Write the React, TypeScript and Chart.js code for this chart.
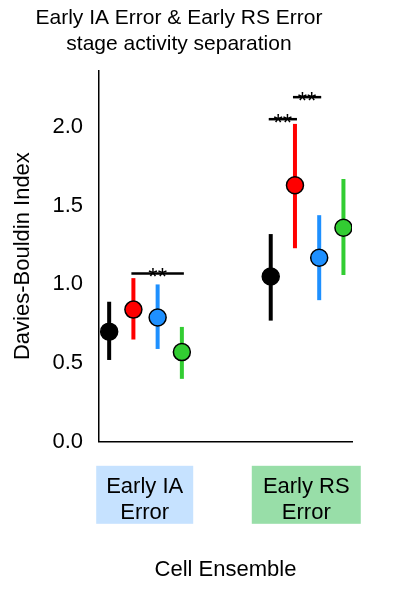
import { useEffect, useRef } from 'react'
import { Chart, registerables } from 'chart.js'

Chart.register(...registerables)

const categories = ['Early IA\nError', 'Early RS\nError']
const stages = ['black', 'red', 'blue', 'green']
const stageColors = ['#000000', '#ff0000', '#1e90ff', '#32cd32']
const stageOffsets = [-0.22, -0.07, 0.08, 0.23]
const means = [
  [0.70, 0.84, 0.79, 0.57],
  [1.05, 1.63, 1.17, 1.36],
]
const lows = [
  [0.52, 0.65, 0.59, 0.40],
  [0.77, 1.23, 0.90, 1.06],
]
const highs = [
  [0.89, 1.04, 1.00, 0.73],
  [1.32, 2.02, 1.44, 1.67],
]
// [category, fromStage, toStage, y]
const sigBars = [
  [0, 1, 3, 1.07],
  [1, 0, 1, 2.05],
  [1, 1, 2, 2.19],
]
const boxColors = ['#c6e2ff', '#98dea8']
const font = 'Liberation Sans, Arial, sans-serif'

export default function App() {
  const canvasRef = useRef<HTMLCanvasElement>(null)

  useEffect(() => {
    document.body.style.margin = '0'
    const ctx = canvasRef.current?.getContext('2d')
    if (!ctx) return

    const datasets = stages.map((s, i) => ({
      label: s,
      data: categories.map((_, c) => ({ x: c + 1 + stageOffsets[i], y: means[c][i] })),
      backgroundColor: stageColors[i],
      borderColor: '#000',
      borderWidth: 1.5,
      pointRadius: 8.5,
    }))

    const extras = {
      id: 'extras',
      beforeDraw(chart: any) {
        const { ctx, scales } = chart
        const x = scales.x, y = scales.y
        ctx.save()
        categories.forEach((_, c) => {
          const cx = x.getPixelForValue(c + 1)
          const w = c === 0 ? 97 : 109
          ctx.fillStyle = boxColors[c]
          ctx.fillRect(cx - w / 2, y.bottom + 24, w, 58)
        })
        ctx.restore()
      },
      beforeDatasetsDraw(chart: any) {
        const { ctx, scales } = chart
        const x = scales.x, y = scales.y
        ctx.save()
        ctx.lineWidth = 4
        categories.forEach((_, c) => {
          stages.forEach((_, i) => {
            const px = x.getPixelForValue(c + 1 + stageOffsets[i])
            ctx.strokeStyle = stageColors[i]
            ctx.beginPath()
            ctx.moveTo(px, y.getPixelForValue(lows[c][i]))
            ctx.lineTo(px, y.getPixelForValue(highs[c][i]))
            ctx.stroke()
          })
        })
        ctx.strokeStyle = '#000'
        ctx.lineWidth = 2.5
        ctx.fillStyle = '#000'
        ctx.font = `24px ${font}`
        ctx.textAlign = 'center'
        ctx.textBaseline = 'alphabetic'
        sigBars.forEach(([c, a, b, v]) => {
          const x1 = x.getPixelForValue(c + 1 + stageOffsets[a]) - 2
          const x2 = x.getPixelForValue(c + 1 + stageOffsets[b]) + 2
          const py = y.getPixelForValue(v)
          ctx.beginPath()
          ctx.moveTo(x1, py)
          ctx.lineTo(x2, py)
          ctx.stroke()
          ctx.fillText('**', (x1 + x2) / 2, py + 12)
        })
        ctx.restore()
      },
    }

    const chart = new Chart(ctx, {
      type: 'scatter',
      data: { datasets },
      plugins: [extras],
      options: {
        animation: false,
        responsive: false,
        layout: { padding: { left: 6, right: 54, top: 0, bottom: 0 } },
        plugins: {
          legend: { display: false },
          tooltip: { enabled: false },
          title: {
            display: true,
            text: ['Early IA Error & Early RS Error', 'stage activity separation'],
            color: '#000',
            font: { family: font, size: 21, weight: 'normal' },
            padding: { top: 6, bottom: 14 },
          },
        },
        scales: {
          x: {
            type: 'linear',
            min: 0.717,
            max: 2.283,
            afterBuildTicks: (s: any) => { s.ticks = [{ value: 1 }, { value: 2 }] },
            grid: { display: false, drawTicks: true, tickLength: 8, tickColor: '#000', tickWidth: 1.5 },
            border: { color: '#000', width: 1.5 },
            ticks: {
              color: '#000',
              padding: 24,
              font: { family: font, size: 22 },
              callback: (v: any) => categories[Math.round(v) - 1]?.split('\n') ?? '',
            },
            title: {
              display: true,
              text: 'Cell Ensemble',
              color: '#000',
              font: { family: font, size: 22 },
              padding: { top: 6, bottom: 6 },
            },
          },
          y: {
            min: 0,
            max: 2.36,
            afterBuildTicks: (s: any) => { s.ticks = [0, 0.5, 1, 1.5, 2].map(v => ({ value: v })) },
            grid: { display: false, drawTicks: true, tickLength: 8, tickColor: '#000', tickWidth: 1.5 },
            border: { color: '#000', width: 1.5 },
            ticks: {
              color: '#000',
              padding: 8,
              font: { family: font, size: 22 },
              callback: (v: any) => Number(v).toFixed(1),
            },
            title: {
              display: true,
              text: 'Davies-Bouldin Index',
              color: '#000',
              font: { family: font, size: 22 },
              padding: { bottom: 8 },
            },
          },
        },
      },
    })
    return () => chart.destroy()
  }, [])

  return <canvas ref={canvasRef} width={406} height={589} style={{ display: 'block' }} />
}
